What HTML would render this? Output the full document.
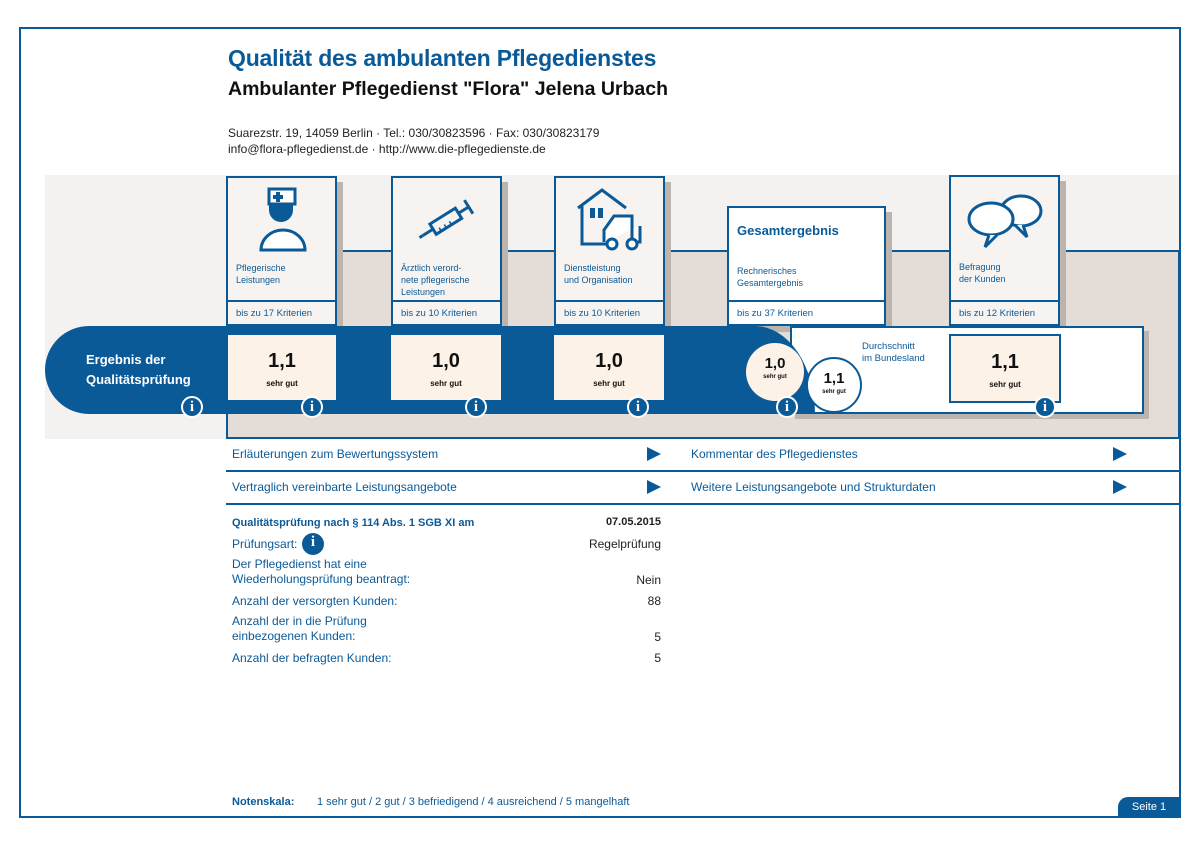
<!DOCTYPE html>
<html><head><meta charset="utf-8">
<style>
*{margin:0;padding:0;box-sizing:border-box}
body{width:1200px;height:849px;background:#fff;font-family:"Liberation Sans",sans-serif;position:relative;overflow:hidden;color:#0b5a98}
.a{position:absolute}
.card{position:absolute;background:#f6f3f0;border:2px solid #0b5a98;box-shadow:6px 6px 0 #bdb4ae}
.card .lab{position:absolute;left:8px;font-size:9px;line-height:12px;color:#0b5a98}
.card .crit{position:absolute;left:0;right:0;bottom:0;height:24px;border-top:2px solid #0b5a98;font-size:9.5px;padding:6px 0 0 8px;color:#0b5a98;background:#f6f3f0}
.score{position:absolute;background:#fdf2e7;text-align:center;color:#111}
.score b{display:block;font-size:20px;margin-top:15px}
.score span{display:block;font-size:8px;font-weight:bold;margin-top:6px}
.info{position:absolute;width:22px;height:22px;border-radius:50%;background:#0b5a98;border:2px solid #fff;color:#fff;font-family:"Liberation Serif",serif;font-weight:bold;font-size:15px;text-align:center;line-height:18px}
.row{position:absolute;font-size:12px;color:#0b5a98}
.tri{position:absolute;width:0;height:0;border-top:7px solid transparent;border-bottom:7px solid transparent;border-left:14px solid #0b5a98}
.dl{position:absolute;font-size:12px;color:#0b5a98;line-height:15px}
.dv{position:absolute;font-size:12px;color:#222;text-align:right;right:539px}
</style></head><body>
<div class="a" style="left:19px;top:27px;width:1162px;height:791px;border:2px solid #0b5a98"></div>

<div class="a" style="left:228px;top:45px;font-size:23px;letter-spacing:-0.2px;font-weight:bold;color:#0b5a98">Qualität des ambulanten Pflegedienstes</div>
<div class="a" style="left:228px;top:78px;font-size:19.5px;font-weight:bold;color:#111">Ambulanter Pflegedienst "Flora" Jelena Urbach</div>
<div class="a" style="left:228px;top:125px;font-size:12px;color:#222;line-height:16px">Suarezstr. 19, 14059 Berlin · Tel.: 030/30823596 · Fax: 030/30823179<br>info@flora-pflegedienst.de · http://www.die-pflegedienste.de</div>

<div class="a" style="left:45px;top:175px;width:1134px;height:264px;background:#f4f2f0"></div>
<div class="a" style="left:226px;top:250px;width:954px;height:189px;background:#e3dcd7;border:2px solid #0b5a98"></div>

<div class="card" style="left:226px;top:176px;width:111px;height:150px">
<svg class="a" style="left:25px;top:8px" width="60" height="66" viewBox="0 0 60 66"><rect x="16" y="3" width="26" height="15" fill="#fff" stroke="#0b5a98" stroke-width="3"/><rect x="23" y="6" width="4" height="10" fill="#0b5a98"/><rect x="20" y="9" width="10" height="4" fill="#0b5a98"/><path d="M16 18 h24 v6 a12 12 0 0 1 -24 0z" fill="#0b5a98"/><path d="M8 64 a22 20 0 0 1 44 0z" fill="#fff" stroke="#0b5a98" stroke-width="3"/></svg>
<div class="lab" style="top:84px">Pflegerische<br>Leistungen</div><div class="crit">bis zu 17 Kriterien</div></div>

<div class="card" style="left:391px;top:176px;width:111px;height:150px">
<svg class="a" style="left:20px;top:18px" width="70" height="50" viewBox="0 0 70 50"><g transform="rotate(-32 35 25)" stroke="#0b5a98" stroke-width="3" fill="none"><rect x="18" y="18" width="30" height="12"/><line x1="48" y1="24" x2="60" y2="24"/><line x1="60" y1="16" x2="60" y2="32"/><line x1="18" y1="24" x2="6" y2="24"/><line x1="2" y1="24" x2="6" y2="24"/><line x1="24" y1="30" x2="24" y2="26" stroke-width="1.5"/><line x1="30" y1="30" x2="30" y2="26" stroke-width="1.5"/><line x1="36" y1="30" x2="36" y2="26" stroke-width="1.5"/></g></svg>
<div class="lab" style="top:84px">Ärztlich verord-<br>nete pflegerische<br>Leistungen</div><div class="crit">bis zu 10 Kriterien</div></div>

<div class="card" style="left:554px;top:176px;width:111px;height:150px">
<svg class="a" style="left:18px;top:8px" width="76" height="66" viewBox="0 0 76 66"><path d="M4 22 L28 4 L52 22 M8 20 V58 H40" fill="none" stroke="#0b5a98" stroke-width="3"/><rect x="16" y="22" width="5" height="10" fill="#0b5a98"/><rect x="24" y="22" width="5" height="10" fill="#0b5a98"/><path d="M30 56 V44 L40 30 H58 V56 H66 V40" fill="#fff" stroke="#0b5a98" stroke-width="3"/><circle cx="38" cy="58" r="5" fill="#fff" stroke="#0b5a98" stroke-width="3"/><circle cx="58" cy="58" r="5" fill="#fff" stroke="#0b5a98" stroke-width="3"/></svg>
<div class="lab" style="top:84px">Dienstleistung<br>und Organisation</div><div class="crit">bis zu 10 Kriterien</div></div>

<div class="card" style="left:727px;top:206px;width:159px;height:120px;background:#fff">
<div class="a" style="left:8px;top:15px;font-size:13px;font-weight:bold;color:#0b5a98">Gesamtergebnis</div>
<div class="lab" style="top:57px">Rechnerisches<br>Gesamtergebnis</div><div class="crit" style="background:#fff">bis zu 37 Kriterien</div></div>

<div class="card" style="left:949px;top:175px;width:111px;height:151px">
<svg class="a" style="left:14px;top:14px" width="80" height="60" viewBox="0 0 80 60"><ellipse cx="56" cy="20" rx="20" ry="15" fill="#fff" stroke="#0b5a98" stroke-width="3"/><path d="M58 34 L62 46 L50 34" fill="#fff" stroke="#0b5a98" stroke-width="3"/><ellipse cx="26" cy="28" rx="22" ry="16" fill="#fff" stroke="#0b5a98" stroke-width="3"/><path d="M24 44 L20 56 L32 44" fill="#fff" stroke="#0b5a98" stroke-width="3"/></svg>
<div class="lab" style="top:84px">Befragung<br>der Kunden</div><div class="crit">bis zu 12 Kriterien</div></div>

<div class="a" style="left:790px;top:326px;width:354px;height:88px;background:#fff;border:2px solid #0b5a98;box-shadow:5px 5px 0 #bdb4ae"></div>
<div class="a" style="left:45px;top:326px;width:770px;height:88px;background:#0b5a98;border-radius:44px 60px 0 44px/44px 88px 0 44px"></div>
<div class="a" style="left:86px;top:350px;font-size:13px;font-weight:bold;color:#fff;line-height:20px">Ergebnis der<br>Qualitätsprüfung</div>

<div class="score" style="left:228px;top:335px;width:108px;height:65px"><b>1,1</b><span>sehr gut</span></div>
<div class="score" style="left:391px;top:335px;width:110px;height:65px"><b>1,0</b><span>sehr gut</span></div>
<div class="score" style="left:554px;top:335px;width:110px;height:65px"><b>1,0</b><span>sehr gut</span></div>
<div class="score" style="left:746px;top:343px;width:58px;height:58px;border-radius:50%"><b style="font-size:15px;margin-top:12px">1,0</b><span style="font-size:6px;margin-top:2px">sehr gut</span></div>
<div class="score" style="left:806px;top:357px;width:56px;height:56px;border-radius:50%;background:#fff;border:2px solid #0b5a98"><b style="font-size:15px;margin-top:11px">1,1</b><span style="font-size:6px;margin-top:2px">sehr gut</span></div>
<div class="a" style="left:862px;top:341px;font-size:9.5px;line-height:12px;color:#0b5a98">Durchschnitt<br>im Bundesland</div>
<div class="score" style="left:949px;top:334px;width:112px;height:69px;border:2px solid #0b5a98"><b>1,1</b><span>sehr gut</span></div>

<div class="info" style="left:181px;top:396px">i</div>
<div class="info" style="left:301px;top:396px">i</div>
<div class="info" style="left:465px;top:396px">i</div>
<div class="info" style="left:627px;top:396px">i</div>
<div class="info" style="left:776px;top:396px">i</div>
<div class="info" style="left:1034px;top:396px">i</div>

<div class="a" style="left:226px;top:470px;width:954px;height:2px;background:#0b5a98"></div>
<div class="a" style="left:226px;top:503px;width:954px;height:2px;background:#0b5a98"></div>
<div class="row" style="left:232px;top:447px">Erläuterungen zum Bewertungssystem</div>
<div class="tri" style="left:647px;top:447px"></div>
<div class="row" style="left:691px;top:447px">Kommentar des Pflegedienstes</div>
<div class="tri" style="left:1113px;top:447px"></div>
<div class="row" style="left:232px;top:480px">Vertraglich vereinbarte Leistungsangebote</div>
<div class="tri" style="left:647px;top:480px"></div>
<div class="row" style="left:691px;top:480px">Weitere Leistungsangebote und Strukturdaten</div>
<div class="tri" style="left:1113px;top:480px"></div>

<div class="dl" style="left:232px;top:516px;font-size:11px;font-weight:bold">Qualitätsprüfung nach § 114 Abs. 1 SGB XI am</div>
<div class="dv" style="top:516px;font-size:11px;font-weight:bold">07.05.2015</div>
<div class="dl" style="left:232px;top:537px">Prüfungsart:</div>
<div class="info" style="left:302px;top:533px;border:none">i</div>
<div class="dv" style="top:537px">Regelprüfung</div>
<div class="dl" style="left:232px;top:557px">Der Pflegedienst hat eine<br>Wiederholungsprüfung beantragt:</div>
<div class="dv" style="top:573px">Nein</div>
<div class="dl" style="left:232px;top:594px">Anzahl der versorgten Kunden:</div>
<div class="dv" style="top:594px">88</div>
<div class="dl" style="left:232px;top:614px">Anzahl der in die Prüfung<br>einbezogenen Kunden:</div>
<div class="dv" style="top:630px">5</div>
<div class="dl" style="left:232px;top:651px">Anzahl der befragten Kunden:</div>
<div class="dv" style="top:651px">5</div>

<div class="a" style="left:232px;top:796px;font-size:11px;font-weight:bold;color:#0b5a98">Notenskala:</div>
<div class="a" style="left:317px;top:796px;font-size:11px;color:#0b5a98">1 sehr gut / 2 gut / 3 befriedigend / 4 ausreichend / 5 mangelhaft</div>
<div class="a" style="left:1118px;top:797px;width:62px;height:21px;background:#0b5a98;border-radius:10px 0 0 0;color:#fff;font-size:11px;text-align:center;line-height:21px">Seite 1</div>
</body></html>
